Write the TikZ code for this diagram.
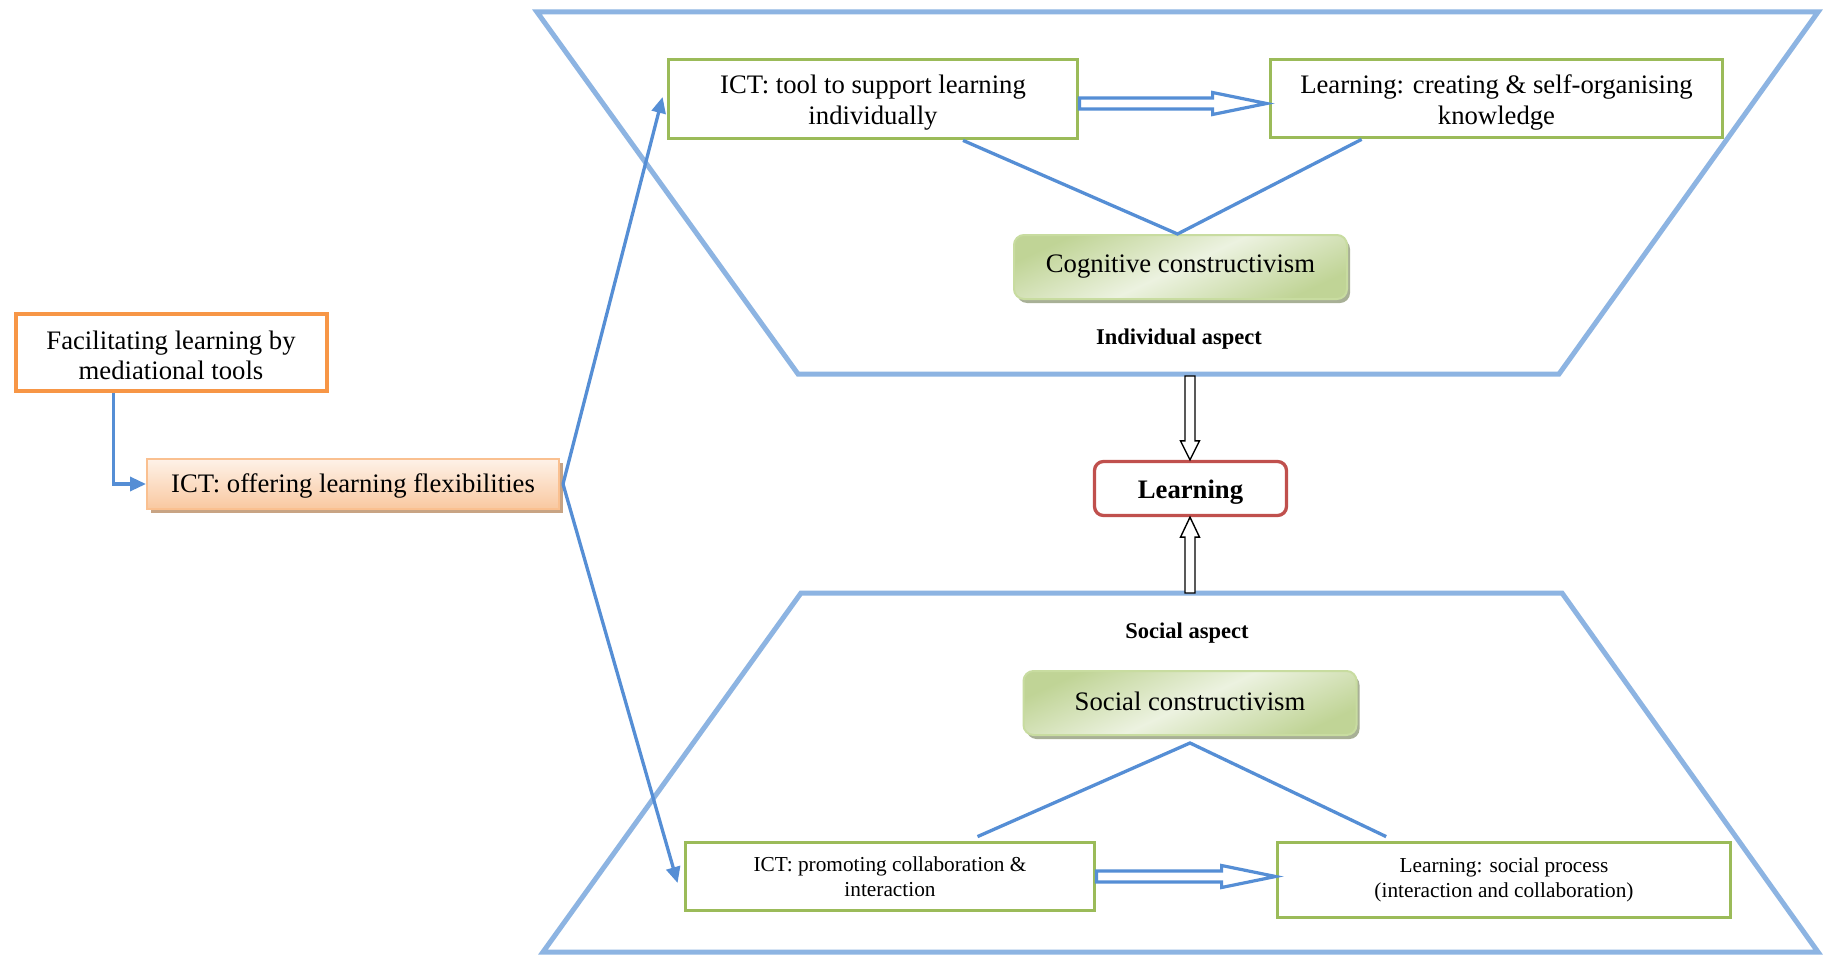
\documentclass[tikz,border=0pt]{standalone}
\usepackage{fontspec}
\setmainfont{Liberation Serif}
\usetikzlibrary{arrows.meta,calc,shadows}

\definecolor{frameblue}{RGB}{141,180,226}
\definecolor{linkblue}{RGB}{85,142,213}
\definecolor{leafgreen}{RGB}{155,187,89}
\definecolor{facilorange}{RGB}{247,150,70}
\definecolor{peachedge}{RGB}{250,192,144}
\definecolor{peachtop}{RGB}{254,242,232}
\definecolor{peachbot}{RGB}{249,200,160}
\definecolor{peachshadow}{RGB}{200,164,132}
\definecolor{sagedark}{RGB}{192,212,150}
\definecolor{sagelight}{RGB}{236,242,224}
\definecolor{sageedge}{RGB}{200,220,160}
\definecolor{sageshadow}{RGB}{168,176,150}
\definecolor{learnred}{RGB}{192,80,77}

% tall invisible strut that lowers a text block inside its box
\newcommand\lowerstrut[1]{\rule{0pt}{#1}}

\tikzset{
  bigtext/.style={font=\fontsize{26.7}{30.5}\selectfont},
  smalltext/.style={font=\fontsize{21.3}{24.5}\selectfont},
  aspecttext/.style={font=\bfseries\fontsize{22.5}{26}\selectfont},
  frame/.style={draw=frameblue, line width=5pt, line join=miter},
  link/.style={draw=linkblue, line width=3.3pt},
  tip/.style={-{Triangle[length=16pt,width=14pt]}},
  greenbox/.style={draw=leafgreen, line width=3.8pt, fill=white, align=center, inner sep=0pt},
  orangebox/.style={draw=facilorange, line width=4pt, fill=white, align=center, inner sep=0pt},
  peachbox/.style={draw=peachedge, line width=2pt, top color=peachtop, bottom color=peachbot,
    align=center, inner sep=0pt,
    drop shadow={shadow xshift=4pt, shadow yshift=-4pt, fill=peachshadow, opacity=1}},
  sagebox/.style={draw=sageedge, line width=2pt, rounded corners=10pt,
    left color=sagedark, right color=sagedark, middle color=sagelight, shading angle=25,
    align=center, inner sep=0pt,
    drop shadow={shadow xshift=3pt, shadow yshift=-4pt, fill=sageshadow, opacity=1}},
  redbox/.style={draw=learnred, line width=3.3pt, rounded corners=9pt, fill=white,
    align=center, inner sep=0pt},
  fatarrow/.style={draw=linkblue, line width=3.2pt, fill=white, line join=miter},
  hollowarrow/.style={draw=black, line width=1.4pt, fill=white, line join=miter}
}

% horizontal outlined arrow from the east side of #1 to the west side of #2
\newcommand\fatarrowh[2]{%
  \draw[fatarrow] let \p1=(#1), \p2=(#2) in
    (\x1,\y1+5.5pt) -- (\x2-54pt,\y1+5.5pt) -- (\x2-54pt,\y1+11pt) -- (\x2,\y1)
    -- (\x2-54pt,\y1-11pt) -- (\x2-54pt,\y1-5.5pt) -- (\x1,\y1-5.5pt) -- cycle;}

\begin{document}
\begin{tikzpicture}[x=1pt,y=-1pt]
\useasboundingbox (0,0) rectangle (1831,955);
\fill[white] (0,0) rectangle (1831,955);

% the two aspect frames
\draw[frame] (537,12) -- (1818,12) -- (1559,374) -- (798,374) -- cycle;
\draw[frame] (801,593) -- (1562,593) -- (1818,952) -- (543,952) -- cycle;

% left column
\node[orangebox, bigtext, minimum width=311pt, minimum height=77pt]
  (facil) at (171,352) {\lowerstrut{25.5pt}Facilitating learning by\\mediational tools};
\node[peachbox, bigtext, minimum width=412pt, minimum height=50pt]
  (offer) at (353,484) {\lowerstrut{23.5pt}ICT: offering learning flexibilities};

% individual aspect
\node[greenbox, bigtext, minimum width=409pt, minimum height=79pt]
  (tool) at (873,99) {\lowerstrut{25.5pt}ICT: tool to support learning\\individually};
\node[greenbox, bigtext, minimum width=452pt, minimum height=78pt]
  (create) at (1496.5,98.5) {\lowerstrut{27pt}Learning: creating \& self-organising\\knowledge};
\node[sagebox, bigtext, minimum width=333pt, minimum height=64pt] (cog) at (1180.5,267)
  {Cognitive constructivism};
\node[aspecttext] (indiv) at (1179,339) {Individual aspect};

% centre
\node[redbox, font=\bfseries\fontsize{26.7}{30.5}\selectfont,
      minimum width=192pt, minimum height=54pt] (learn) at (1190.5,488.5)
  {\lowerstrut{26.5pt}Learning};
\coordinate (upperedge) at (1190,376);
\coordinate (loweredge) at (1190,593);

% social aspect
\node[aspecttext] (socasp) at (1187,633) {Social aspect};
\node[sagebox, bigtext, minimum width=333pt, minimum height=64pt] (social) at (1190,703)
  {Social constructivism\rule[-4pt]{0pt}{0pt}};
\node[greenbox, smalltext, minimum width=409pt, minimum height=68pt] (promote) at (890,876.5)
  {ICT: promoting collaboration \&\\interaction};
\node[greenbox, smalltext, minimum width=453pt, minimum height=75pt] (socproc) at (1504,880)
  {Learning: social process\\(interaction and collaboration)};

% connectors from the left column
\draw[link, tip] ($(facil.south west)!0.317!(facil.south east)$) |- (offer.west);
\draw[link, tip] ([xshift=3pt]offer.east) -- ([xshift=-4pt,yshift=2pt]tool.west);
\draw[link, tip] ([xshift=3pt]offer.east) -- ([xshift=-6pt,yshift=-6.5pt]promote.west);

% constructivism links
\draw[link] ($(tool.south west)!0.718!(tool.south east)$) -- ([xshift=-3pt]cog.north)
  -- ($(create.south west)!0.204!(create.south east)$);
\draw[link] ($(promote.north west)!0.712!(promote.north east)+(0,-4)$)
  -- ([yshift=-7pt]social.south)
  -- ($(socproc.north west)!0.242!(socproc.north east)+(0,-4)$);

% outlined arrows between the boxes
\fatarrowh{[yshift=-4.5pt]tool.east}{[xshift=-2pt,yshift=-4.5pt]create.west}
\fatarrowh{promote.east}{socproc.west}

% hollow arrows into the Learning box
\draw[hollowarrow] let \p1=(upperedge), \p2=(learn.north) in
  (\x1-5pt,\y1) -- (\x1-5pt,\y2+19pt) -- (\x1-9.5pt,\y2+19pt) -- (\x1,\y2)
  -- (\x1+9.5pt,\y2+19pt) -- (\x1+5pt,\y2+19pt) -- (\x1+5pt,\y1) -- cycle;
\draw[hollowarrow] let \p1=(loweredge), \p2=(learn.south) in
  (\x1-5pt,\y1) -- (\x1-5pt,\y2-20pt) -- (\x1-9.5pt,\y2-20pt) -- (\x1,\y2)
  -- (\x1+9.5pt,\y2-20pt) -- (\x1+5pt,\y2-20pt) -- (\x1+5pt,\y1) -- cycle;
\end{tikzpicture}
\end{document}
